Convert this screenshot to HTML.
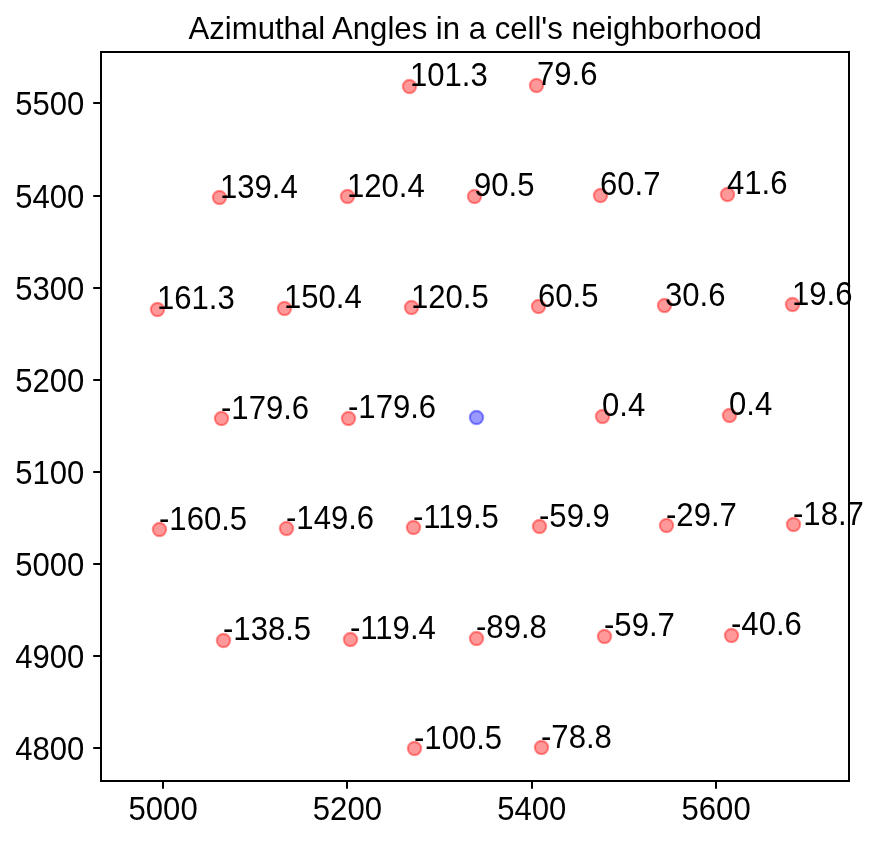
<!DOCTYPE html>
<html lang="en">
<head>
<meta charset="utf-8">
<title>Azimuthal Angles in a cell's neighborhood</title>
<style>
html,body{margin:0;padding:0;background:#fff;}
svg{display:block;}
text{font-family:"Liberation Sans",sans-serif;font-size:31.11px;fill:#000;}
.c{fill:#f00;fill-opacity:.4;stroke:#f00;stroke-opacity:.4;stroke-width:2.22;}
.b{fill:#00f;fill-opacity:.4;stroke:#00f;stroke-opacity:.4;stroke-width:2.22;}
.k{stroke:#000;stroke-width:2;fill:none;}
</style>
</head>
<body>
<svg width="880" height="842" viewBox="0 0 880 842">
<rect x="0" y="0" width="880" height="842" fill="#fff"/>
<g>
<circle class="c" cx="409.5" cy="86.5" r="6.67"/>
<circle class="c" cx="536.5" cy="85.5" r="6.67"/>
<circle class="c" cx="219.5" cy="197.5" r="6.67"/>
<circle class="c" cx="347.5" cy="196.5" r="6.67"/>
<circle class="c" cx="474.5" cy="196.5" r="6.67"/>
<circle class="c" cx="600.5" cy="195.5" r="6.67"/>
<circle class="c" cx="727.5" cy="194.5" r="6.67"/>
<circle class="c" cx="157.5" cy="309.5" r="6.67"/>
<circle class="c" cx="284.5" cy="308.5" r="6.67"/>
<circle class="c" cx="411.5" cy="307.5" r="6.67"/>
<circle class="c" cx="538.5" cy="306.5" r="6.67"/>
<circle class="c" cx="664.5" cy="305.5" r="6.67"/>
<circle class="c" cx="792.5" cy="304.5" r="6.67"/>
<circle class="c" cx="221.5" cy="418.5" r="6.67"/>
<circle class="c" cx="348.5" cy="418.5" r="6.67"/>
<circle class="b" cx="476.5" cy="417.5" r="6.67"/>
<circle class="c" cx="602.5" cy="416.5" r="6.67"/>
<circle class="c" cx="729.5" cy="415.5" r="6.67"/>
<circle class="c" cx="159.5" cy="529.5" r="6.67"/>
<circle class="c" cx="286.5" cy="528.5" r="6.67"/>
<circle class="c" cx="413.5" cy="527.5" r="6.67"/>
<circle class="c" cx="539.5" cy="526.5" r="6.67"/>
<circle class="c" cx="666.5" cy="525.5" r="6.67"/>
<circle class="c" cx="793.5" cy="524.5" r="6.67"/>
<circle class="c" cx="223.5" cy="640.5" r="6.67"/>
<circle class="c" cx="350.5" cy="639.5" r="6.67"/>
<circle class="c" cx="476.5" cy="638.5" r="6.67"/>
<circle class="c" cx="604.5" cy="636.5" r="6.67"/>
<circle class="c" cx="731.5" cy="635.5" r="6.67"/>
<circle class="c" cx="414.5" cy="748.5" r="6.67"/>
<circle class="c" cx="541.5" cy="747.5" r="6.67"/>
</g>
<g class="k">
<line x1="163" y1="781" x2="163" y2="788.8"/>
<line x1="347" y1="781" x2="347" y2="788.8"/>
<line x1="532" y1="781" x2="532" y2="788.8"/>
<line x1="716" y1="781" x2="716" y2="788.8"/>
<line x1="93.2" y1="103" x2="101" y2="103"/>
<line x1="93.2" y1="196" x2="101" y2="196"/>
<line x1="93.2" y1="288" x2="101" y2="288"/>
<line x1="93.2" y1="380" x2="101" y2="380"/>
<line x1="93.2" y1="472" x2="101" y2="472"/>
<line x1="93.2" y1="564" x2="101" y2="564"/>
<line x1="93.2" y1="656" x2="101" y2="656"/>
<line x1="93.2" y1="748" x2="101" y2="748"/>
<rect x="101" y="52" width="748" height="729"/>
</g>
<g transform="scale(1,1.04)">
<g text-anchor="middle">
<text x="163.1" y="788.077">5000</text>
<text x="347.4" y="788.077">5200</text>
<text x="531.8" y="788.077">5400</text>
<text x="716.1" y="788.077">5600</text>
</g>
<g text-anchor="end">
<text x="84.4" y="111.058">5500</text>
<text x="84.4" y="199.654">5400</text>
<text x="84.4" y="288.25">5300</text>
<text x="84.4" y="376.846">5200</text>
<text x="84.4" y="465.442">5100</text>
<text x="84.4" y="554.038">5000</text>
<text x="84.4" y="642.635">4900</text>
<text x="84.4" y="731.231">4800</text>
</g>
<g>
<text x="410" y="82.788">101.3</text>
<text x="537" y="81.827">79.6</text>
<text x="220" y="190.481">139.4</text>
<text x="347" y="189.519">120.4</text>
<text x="474" y="188.558">90.5</text>
<text x="600" y="187.596">60.7</text>
<text x="727" y="186.635">41.6</text>
<text x="157" y="297.212">161.3</text>
<text x="284" y="296.25">150.4</text>
<text x="411" y="296.25">120.5</text>
<text x="538" y="295.288">60.5</text>
<text x="665" y="294.327">30.6</text>
<text x="792" y="293.365">19.6</text>
<text x="221" y="402.981">-179.6</text>
<text x="348" y="402.019">-179.6</text>
<text x="602" y="400.096">0.4</text>
<text x="729" y="399.135">0.4</text>
<text x="159" y="509.712">-160.5</text>
<text x="286" y="508.75">-149.6</text>
<text x="413" y="507.788">-119.5</text>
<text x="539" y="506.827">-59.9</text>
<text x="666" y="505.865">-29.7</text>
<text x="793" y="504.904">-18.7</text>
<text x="223" y="615.481">-138.5</text>
<text x="350" y="614.519">-119.4</text>
<text x="476" y="613.558">-89.8</text>
<text x="604" y="611.635">-59.7</text>
<text x="731" y="610.673">-40.6</text>
<text x="414" y="720.288">-100.5</text>
<text x="541" y="719.327">-78.8</text>
</g>
</g>
<text x="475.15" y="39" text-anchor="middle">Azimuthal Angles in a cell's neighborhood</text>
</svg>
</body>
</html>
